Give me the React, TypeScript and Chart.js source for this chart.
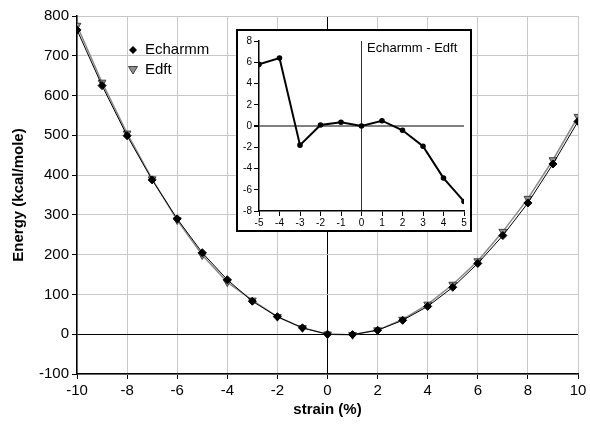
import React, { useEffect, useRef } from "react";
import { Chart, registerables } from "chart.js";

Chart.register(...registerables);

const strain = [-10, -9, -8, -7, -6, -5, -4, -3, -2, -1, 0, 1, 2, 3, 4, 5, 6, 7, 8, 9, 10];
const echarmm = [765, 625, 499, 388, 290, 205, 137, 83, 44, 16, 0, -1, 10, 35, 70, 118, 178, 248, 330, 428, 535];
const edft = [776, 633, 505, 390, 287, 199, 131, 85, 44, 16, 0, -1.5, 10.4, 37, 75, 125, 184, 258, 341, 438, 547];

const diffStrain = [-5, -4, -3, -2, -1, 0, 1, 2, 3, 4, 5];
const diffValues = [5.8, 6.4, -1.8, 0.1, 0.35, 0, 0.5, -0.4, -1.9, -4.9, -7.1];

const seriesNames = ["Echarmm", "Edft"];
const insetTitle = "Echarmm - Edft";
const xTitle = "strain (%)";
const yTitle = "Energy (kcal/mole)";

const FONT = "'Liberation Sans', Arial, sans-serif";

export default function App() {
  const mainRef = useRef<HTMLCanvasElement | null>(null);
  const insetRef = useRef<HTMLCanvasElement | null>(null);

  useEffect(() => {
    if (!mainRef.current || !insetRef.current) return;

    const legendPlugin = {
      id: "customLegend",
      afterDatasetsDraw(chart: any) {
        const ctx = chart.ctx;
        ctx.save();
        // diamond
        const dx = 133, dy = 50;
        ctx.fillStyle = "#000";
        ctx.beginPath();
        ctx.moveTo(dx, dy - 4);
        ctx.lineTo(dx + 4, dy);
        ctx.lineTo(dx, dy + 4);
        ctx.lineTo(dx - 4, dy);
        ctx.closePath();
        ctx.fill();
        // triangle
        const tx = 133, ty = 70;
        ctx.fillStyle = "#909090";
        ctx.strokeStyle = "#404040";
        ctx.lineWidth = 1;
        ctx.beginPath();
        ctx.moveTo(tx - 4.5, ty - 3.5);
        ctx.lineTo(tx + 4.5, ty - 3.5);
        ctx.lineTo(tx, ty + 4);
        ctx.closePath();
        ctx.fill();
        ctx.stroke();
        ctx.fillStyle = "#000";
        ctx.font = `15px ${FONT}`;
        ctx.textBaseline = "middle";
        ctx.textAlign = "left";
        ctx.fillText(seriesNames[0], 145, dy);
        ctx.fillText(seriesNames[1], 145, ty);
        ctx.restore();
      },
    };

    const main = new Chart(mainRef.current, {
      type: "line",
      data: {
        labels: strain,
        datasets: [
          {
            label: seriesNames[0],
            data: strain.map((x, i) => ({ x, y: echarmm[i] })),
            borderColor: "#000",
            borderWidth: 1,
            pointStyle: "rectRot",
            pointRadius: 4,
            pointBackgroundColor: "#000",
            pointBorderColor: "#000",
            tension: 0,
          },
          {
            label: seriesNames[1],
            data: strain.map((x, i) => ({ x, y: edft[i] })),
            borderColor: "#8a8a8a",
            borderWidth: 1.5,
            pointStyle: "triangle",
            pointRotation: 180,
            pointRadius: 4.5,
            pointBackgroundColor: "#909090",
            pointBorderColor: "#404040",
            pointBorderWidth: 1,
            tension: 0,
          },
        ],
      },
      options: {
        responsive: false,
        animation: false,
        devicePixelRatio: 1,
        layout: { padding: { top: 16, right: 12, left: 0, bottom: 0 } },
        plugins: { legend: { display: false }, tooltip: { enabled: false } },
        scales: {
          x: {
            type: "linear",
            min: -10,
            max: 10,
            afterFit: (s: any) => { s.height = 52; },
            ticks: { stepSize: 2, color: "#000", font: { family: FONT, size: 15 }, padding: 3, maxRotation: 0 },
            grid: {
              color: (c: any) => (c.tick && c.tick.value === 0 ? "#000" : "#c8c8c8"),
              tickColor: "#000",
              tickLength: 5,
              lineWidth: 1,
            },
            border: { color: "#000", width: 1.5 },
            title: { display: true, text: xTitle, color: "#000", font: { family: FONT, size: 15, weight: "bold" }, padding: { top: 7, bottom: 7 } },
          },
          y: {
            type: "linear",
            min: -100,
            max: 800,
            afterFit: (s: any) => { s.width = 77; },
            ticks: { stepSize: 100, color: "#000", font: { family: FONT, size: 15 }, padding: 3 },
            grid: {
              color: (c: any) => (c.tick && c.tick.value === 0 ? "#000" : "#c8c8c8"),
              tickColor: "#000",
              tickLength: 5,
              lineWidth: 1,
            },
            border: { color: "#000", width: 1.5 },
            title: { display: true, text: yTitle, color: "#000", font: { family: FONT, size: 15, weight: "bold" }, padding: { top: 10, bottom: 10 } },
          },
        },
      },
      plugins: [legendPlugin],
    } as any);

    const insetLabelPlugin = {
      id: "insetLabel",
      afterDraw(chart: any) {
        const ctx = chart.ctx;
        ctx.save();
        ctx.fillStyle = "#000";
        ctx.font = `13px ${FONT}`;
        ctx.textBaseline = "middle";
        ctx.textAlign = "left";
        ctx.fillText(insetTitle, 129, 17);
        ctx.restore();
      },
    };

    const inset = new Chart(insetRef.current, {
      type: "line",
      data: {
        labels: diffStrain,
        datasets: [
          {
            label: insetTitle,
            data: diffStrain.map((x, i) => ({ x, y: diffValues[i] })),
            borderColor: "#000",
            borderWidth: 2,
            pointStyle: "circle",
            pointRadius: 1.8,
            pointBackgroundColor: "#000",
            pointBorderColor: "#000",
            tension: 0,
          },
        ],
      },
      options: {
        responsive: false,
        animation: false,
        devicePixelRatio: 1,
        layout: { padding: { top: 10, right: 5, left: 0, bottom: 0 } },
        plugins: { legend: { display: false }, tooltip: { enabled: false } },
        scales: {
          x: {
            type: "linear",
            min: -5,
            max: 5,
            afterFit: (s: any) => { s.height = 19; },
            ticks: { stepSize: 1, color: "#000", font: { family: FONT, size: 10 }, padding: 1, maxRotation: 0, autoSkip: false },
            grid: {
              color: (c: any) => (c.tick && c.tick.value === 0 ? "#333" : "rgba(0,0,0,0)"),
              tickColor: "#000",
              tickLength: 5,
              lineWidth: 1,
            },
            border: { color: "#000", width: 1.5 },
          },
          y: {
            type: "linear",
            min: -8,
            max: 8,
            afterFit: (s: any) => { s.width = 21; },
            ticks: { stepSize: 2, color: "#000", font: { family: FONT, size: 10 }, padding: 2 },
            grid: {
              color: (c: any) => (c.tick && c.tick.value === 0 ? "#808080" : "rgba(0,0,0,0)"),
              lineWidth: (c: any) => (c.tick && c.tick.value === 0 ? 2 : 1),
              tickColor: "#000",
              tickLength: 5,
            },
            border: { color: "#000", width: 1.5 },
          },
        },
      },
      plugins: [insetLabelPlugin],
    } as any);

    return () => {
      main.destroy();
      inset.destroy();
    };
  }, []);

  return (
    <div style={{ position: "absolute", left: 0, top: 0, width: 590, height: 426, background: "#fff" }}>
      <canvas ref={mainRef} width={590} height={426} style={{ position: "absolute", left: 0, top: 0 }} />
      <div
        style={{
          position: "absolute",
          left: 236,
          top: 29,
          width: 232,
          height: 199,
          border: "2px solid #000",
          background: "#fff",
        }}
      >
        <canvas ref={insetRef} width={232} height={199} style={{ display: "block" }} />
      </div>
    </div>
  );
}
